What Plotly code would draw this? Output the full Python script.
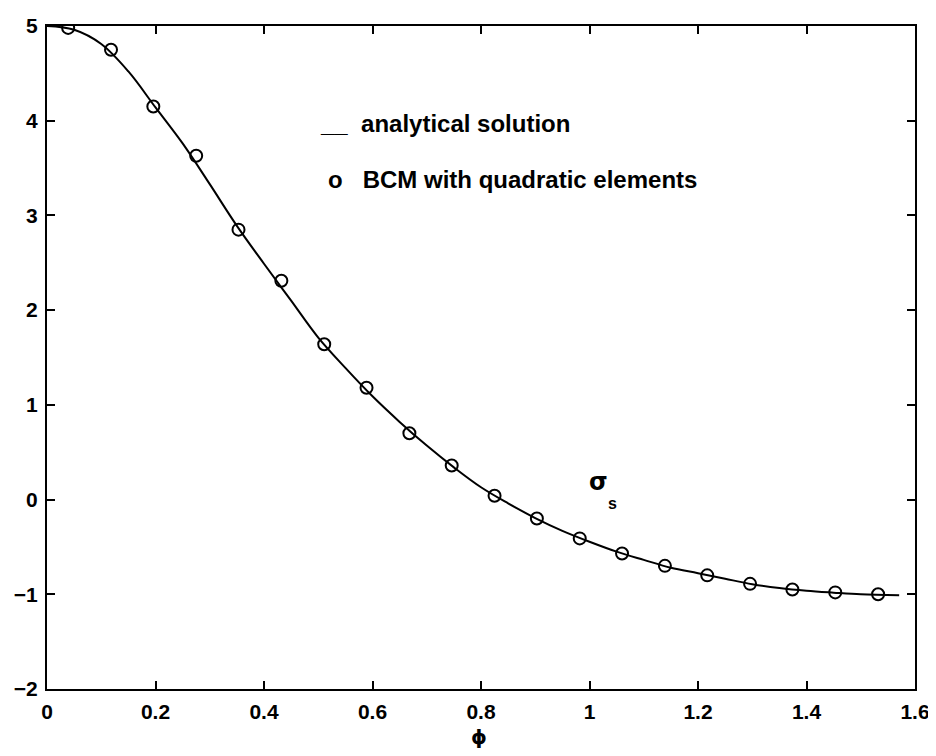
import plotly.graph_objects as go

# Analytical solution
phi_curve = [0.0, 0.05, 0.1, 0.15, 0.2, 0.25, 0.3, 0.35, 0.4, 0.45, 0.5, 0.55, 0.6,
             0.65, 0.7, 0.75, 0.8, 0.85, 0.9, 0.95, 1.0, 1.05, 1.1, 1.15, 1.2, 1.25,
             1.3, 1.35, 1.4, 1.45, 1.5, 1.5708]
sigma_curve = [5.0, 4.96, 4.81, 4.52, 4.14, 3.76, 3.33, 2.89, 2.49, 2.10, 1.71, 1.39, 1.09,
               0.82, 0.57, 0.34, 0.13, -0.04, -0.195, -0.33, -0.445, -0.55, -0.637, -0.72,
               -0.777, -0.836, -0.893, -0.934, -0.963, -0.983, -1.0, -1.01]

# BCM with quadratic elements
phi_bcm = [0.039, 0.118, 0.196, 0.275, 0.353, 0.432, 0.511, 0.589, 0.668, 0.746,
           0.825, 0.903, 0.982, 1.060, 1.139, 1.217, 1.296, 1.374, 1.453, 1.532]
sigma_bcm = [4.98, 4.75, 4.15, 3.63, 2.85, 2.31, 1.64, 1.18, 0.70, 0.36,
             0.04, -0.20, -0.41, -0.57, -0.70, -0.80, -0.89, -0.95, -0.98, -1.00]

x_ticks = [0, 0.2, 0.4, 0.6, 0.8, 1.0, 1.2, 1.4, 1.6]
x_ticktext = ["0", "0.2", "0.4", "0.6", "0.8", "1", "1.2", "1.4", "1.6"]
y_ticks = [-2, -1, 0, 1, 2, 3, 4, 5]

FONT = "Liberation Sans, Arial, sans-serif"

fig = go.Figure()
fig.add_trace(go.Scatter(x=phi_curve, y=sigma_curve, mode="lines",
                         line=dict(color="black", width=2, shape="spline"),
                         showlegend=False))
fig.add_trace(go.Scatter(x=phi_bcm, y=sigma_bcm, mode="markers",
                         marker=dict(symbol="circle-open", size=12, color="black",
                                     line=dict(width=2, color="black")),
                         showlegend=False))

axis_common = dict(showline=True, linewidth=2, linecolor="black", mirror="ticks",
                   ticks="inside", ticklen=8, tickwidth=2, tickcolor="black",
                   showgrid=False, zeroline=False, ticklabeloverflow="allow",
                   tickfont=dict(family=FONT, size=21, color="black", weight="bold"))

fig.update_xaxes(range=[0, 1.6], tickvals=x_ticks, ticktext=x_ticktext,
                 ticklabelstandoff=3, **axis_common)
fig.update_yaxes(range=[-2, 5], tickvals=y_ticks, ticklabelstandoff=3, **axis_common)

fig.add_annotation(text="ϕ", xref="paper", yref="paper", x=(477 - 41) / 877, y=-0.0726,
                   xanchor="center", yanchor="middle", showarrow=False, height=22,
                   font=dict(family="DejaVu Sans", size=20, color="black", weight="bold"))
fig.add_annotation(text="__&nbsp; analytical solution", xref="paper", yref="paper",
                   x=(315 - 41) / 877, y=(689 - 113) / 675, xanchor="left", yanchor="middle",
                   showarrow=False, font=dict(family=FONT, size=24, color="black", weight="bold"))
fig.add_annotation(text="o&nbsp;&nbsp; BCM with quadratic elements", xref="paper", yref="paper",
                   x=(323 - 41) / 877, y=(689 - 170) / 675, xanchor="left", yanchor="middle",
                   showarrow=False, font=dict(family=FONT, size=24, color="black", weight="bold"))
fig.add_annotation(text="σ", x=1.016, y=0.19, xanchor="center", yanchor="middle",
                   showarrow=False, height=20,
                   font=dict(family="DejaVu Sans", size=24, color="black", weight="bold"))
fig.add_annotation(text="s", x=1.043, y=-0.04, xanchor="center", yanchor="middle",
                   showarrow=False, height=14,
                   font=dict(family=FONT, size=16, color="black", weight="bold"))

# page body has an 8px default margin: size the figure so it fits the 936x756 window
fig.update_layout(width=928, height=748, plot_bgcolor="white", paper_bgcolor="white",
                  margin=dict(l=33, r=18, t=6, b=67), showlegend=False)

fig.write_html("out.html")
